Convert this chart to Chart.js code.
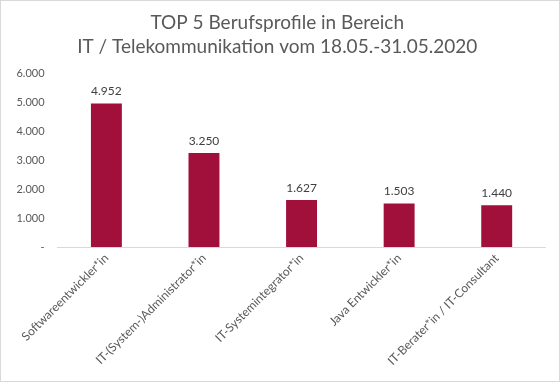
<!DOCTYPE html>
<html>
<head>
<meta charset="utf-8">
<script src="https://cdn.jsdelivr.net/npm/chart.js@4"></script>
<style>
html,body{margin:0;padding:0;background:#fff;}
#wrap{position:relative;width:558px;height:380px;border:1px solid #d9d9d9;}
canvas{display:block;}
</style>
</head>
<body>
<div id="wrap"><canvas id="c" width="558" height="380"></canvas></div>
<script>
const categories = ["Softwareentwickler*in","IT-(System-)Administrator*in","IT-Systemintegrator*in","Java Entwickler*in","IT-Berater*in / IT-Consultant"];
const values = [4952, 3250, 1627, 1503, 1440];
const yTicks = [0,1000,2000,3000,4000,5000,6000];
const titleLines = ["TOP 5 Berufsprofile in Bereich","IT / Telekommunikation vom 18.05.-31.05.2020"];

function fmt(v){ return v===0 ? "-" : v.toLocaleString("de-DE"); }

const labelPlugin = {
  id:"barLabels",
  afterDatasetsDraw(chart){
    const ctx = chart.ctx;
    const meta = chart.getDatasetMeta(0);
    ctx.save();
    ctx.font = "12px Lato";
    ctx.fillStyle = "#404040";
    ctx.textAlign = "center";
    ctx.textBaseline = "bottom";
    meta.data.forEach((bar,i)=>{
      ctx.fillText(fmt(values[i]), bar.x, bar.y - 6);
    });
    ctx.restore();
  }
};

new Chart(document.getElementById("c"),{
  type:"bar",
  data:{labels:categories,datasets:[{data:values,backgroundColor:"#A10F3B",categoryPercentage:1,barPercentage:0.317}]},
  options:{
    responsive:false,
    animation:false,
    layout:{padding:{left:8,right:13.5,top:0,bottom:9}},
    plugins:{
      legend:{display:false},
      tooltip:{enabled:false},
      title:{display:true,text:titleLines,color:"#595959",font:{family:"Lato",size:19,weight:"normal",lineHeight:1.27},padding:{top:10,bottom:14}}
    },
    scales:{
      x:{
        grid:{display:false,drawTicks:false},
        border:{display:true,color:"#d9d9d9",width:1},
        ticks:{color:"#595959",font:{family:"Lato",size:12},maxRotation:45,minRotation:45,padding:4}
      },
      y:{
        min:0,max:6000,
        afterBuildTicks(axis){axis.ticks = yTicks.map(v=>({value:v}));},
        afterFit(axis){axis.width = 48.6;},
        grid:{display:false,drawTicks:false},
        border:{display:false},
        ticks:{color:"#595959",font:{family:"Lato",size:11},padding:13,callback:(v)=>fmt(v)}
      }
    }
  },
  plugins:[labelPlugin]
});
</script>
</body>
</html>
